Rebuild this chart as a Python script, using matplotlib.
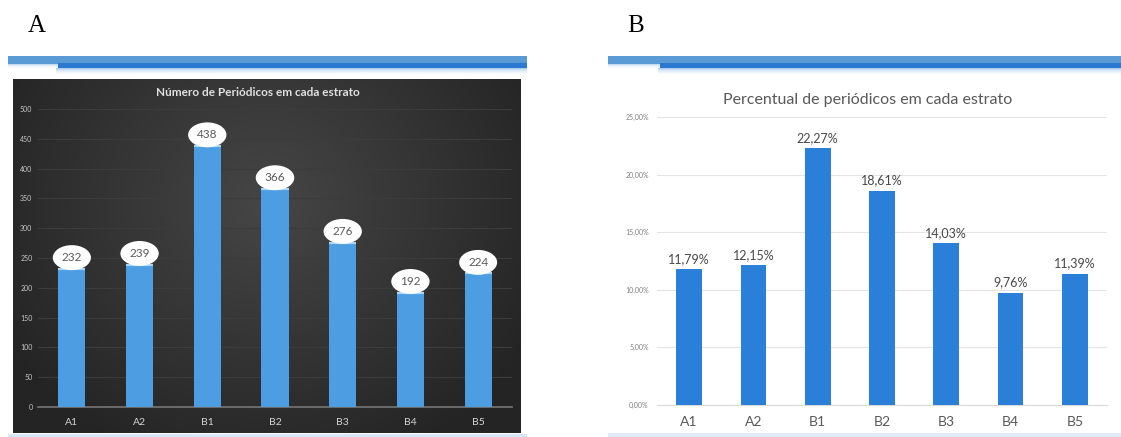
import matplotlib
matplotlib.use('Agg')
import matplotlib.pyplot as plt
import numpy as np
from matplotlib.patches import Rectangle

categories = ['A1', 'A2', 'B1', 'B2', 'B3', 'B4', 'B5']
counts = [232, 239, 438, 366, 276, 192, 224]
percents = [11.79, 12.15, 22.27, 18.61, 14.03, 9.76, 11.39]
count_ticks = list(range(0, 501, 50))
pct_ticks = [0, 5, 10, 15, 20, 25]
title_a = 'Número de Periódicos em cada estrato'
title_b = 'Percentual de periódicos em cada estrato'

W, H = 1121, 437
plt.rcParams['font.family'] = ['Lato', 'DejaVu Sans']
fig = plt.figure(figsize=(W / 100, H / 100), dpi=100)


def box(x0, y0, x1, y1):
    return [x0 / W, 1 - y1 / H, (x1 - x0) / W, (y1 - y0) / H]


def rect(x0, y0, x1, y1, color, alpha=1.0, z=0):
    fig.patches.append(Rectangle((x0 / W, 1 - y1 / H), (x1 - x0) / W, (y1 - y0) / H,
                                 transform=fig.transFigure, facecolor=color,
                                 edgecolor='none', alpha=alpha, zorder=z))


def banner(x0, x1, xs):
    rect(x0, 56, x1, 64, '#5b9bd5')
    rect(xs, 63, x1, 68, '#2a78cf')
    for i, a in enumerate([0.45, 0.32, 0.22, 0.14, 0.08, 0.04]):
        rect(xs - 2, 68 + i, x1, 69 + i, '#4d96e0', alpha=a)
    for i, a in enumerate([0.35, 0.2, 0.1, 0.05]):
        rect(x0, 64 + i, xs, 65 + i, '#5b9bd5', alpha=a)


banner(8, 527, 58)
banner(608, 1121, 660)

# bottom thin lines
rect(8, 434, 527, 437, '#d6e7f7')
rect(608, 433, 1121, 437, '#dfecf8')

# panel letters
fig.text(37 / W, 1 - 26 / H, 'A', family=['Liberation Serif'], fontsize=18,
         ha='center', va='center', color='black')
fig.text(636 / W, 1 - 26 / H, 'B', family=['Liberation Serif'], fontsize=18,
         ha='center', va='center', color='black')

# ---------------- Panel A ----------------
bg = fig.add_axes(box(13, 79, 521, 433))
ny, nx = 200, 300
yy, xx = np.mgrid[0:1:ny * 1j, 0:1:nx * 1j]
r = np.sqrt(((xx - 0.5) / 0.6) ** 2 + ((yy - 0.35) / 0.8) ** 2)
r = np.clip(r, 0, 1)
c0 = np.array([0x46, 0x46, 0x46]) / 255
c1 = np.array([0x24, 0x24, 0x24]) / 255
img = c0[None, None, :] * (1 - r[..., None]) + c1[None, None, :] * r[..., None]
bg.imshow(img, aspect='auto', extent=[0, 1, 0, 1])
bg.set_axis_off()

axA = fig.add_axes(box(38, 109, 512, 407))
axA.set_facecolor('none')
x = np.arange(len(categories))
axA.bar(x, counts, width=0.4, color='#4c9de2', zorder=3)
axA.hlines(counts, x - 0.2, x + 0.2, color='#a9d5f8', lw=1.6, zorder=4)
axA.set_xlim(-0.5, len(categories) - 0.5)
axA.set_ylim(0, 500)
axA.set_yticks(count_ticks)
axA.set_yticklabels([str(t) for t in count_ticks])
axA.set_xticks(x)
axA.set_xticklabels(categories)
axA.tick_params(axis='y', length=0, pad=4, labelsize=5, labelcolor='#c8c8c8')
axA.tick_params(axis='x', length=0, pad=8, labelsize=7.5, labelcolor='#d4d4d4')
axA.grid(axis='y', color='#3c3c3c', lw=0.8, zorder=0)
axA.set_axisbelow(True)
for s in ['top', 'right', 'left']:
    axA.spines[s].set_visible(False)
axA.spines['bottom'].set_color('#767676')
axA.spines['bottom'].set_linewidth(1.2)
for xi, v in zip(x, counts):
    axA.annotate(str(v), (xi, v), xytext=(0, 8), textcoords='offset points',
                 ha='center', va='center', fontsize=8.5, color='#5a5a5a', zorder=5,
                 bbox=dict(boxstyle='ellipse,pad=0.28', fc='white', ec='none'))
fig.text(258 / W, 1 - 93 / H, title_a, fontsize=8.5, fontweight='bold',
         color='#e0e0e0', ha='center', va='center')

# ---------------- Panel B ----------------
axB = fig.add_axes(box(657, 117, 1107, 405))
axB.bar(x, percents, width=0.4, color='#2a7fd8', zorder=3)
axB.set_xlim(-0.5, len(categories) - 0.5)
axB.set_ylim(0, 25)
axB.set_yticks(pct_ticks)
axB.set_yticklabels([f'{t:.2f}%'.replace('.', ',') for t in pct_ticks])
axB.set_xticks(x)
axB.set_xticklabels(categories)
axB.tick_params(axis='y', length=0, pad=6, labelsize=5, labelcolor='#808080')
axB.tick_params(axis='x', length=0, pad=8, labelsize=10, labelcolor='#595959')
axB.grid(axis='y', color='#e4e4e4', lw=0.8, zorder=0)
axB.set_axisbelow(True)
for s in ['top', 'right', 'left']:
    axB.spines[s].set_visible(False)
axB.spines['bottom'].set_color('#d9d9d9')
for xi, v in zip(x, percents):
    axB.annotate(f'{v:.2f}%'.replace('.', ','), (xi, v), xytext=(0, 3),
                 textcoords='offset points', ha='center', va='bottom',
                 fontsize=9, color='#484848')
fig.text(868 / W, 1 - 100 / H, title_b, fontsize=11.5, color='#595959',
         ha='center', va='center')

fig.savefig('out.png', dpi=100)
